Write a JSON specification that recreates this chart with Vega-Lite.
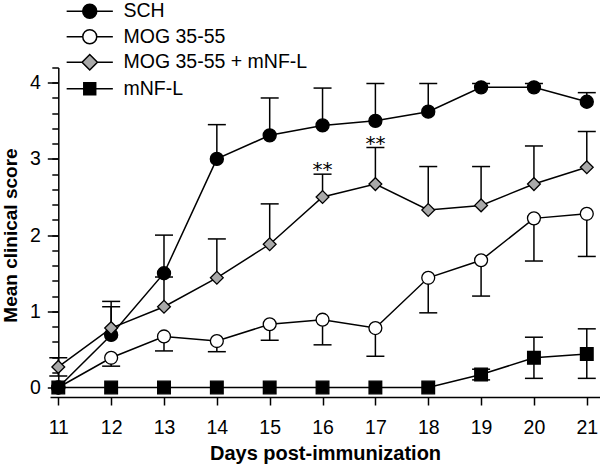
{
  "$schema": "https://vega.github.io/schema/vega-lite/v6.json",
  "width": 550,
  "height": 320,
  "autosize": {"type": "none"},
  "padding": {"left": 50, "top": 67.5, "right": 0, "bottom": 77.5},
  "background": "white",
  "config": {
    "view": {"stroke": null},
    "font": "Liberation Sans",
    "axis": {"grid": false, "domainColor": "black", "tickColor": "black", "labelColor": "black", "titleColor": "black", "domainWidth": 1.5, "tickWidth": 1.5, "labelFont": "Liberation Sans", "titleFont": "Liberation Sans"}
  },
  "datasets": {
    "series": [
      {"group": "SCH", "day": 11, "mean": 0, "lo": null, "hi": null},
      {"group": "SCH", "day": 12, "mean": 0.69, "lo": null, "hi": 1.13},
      {"group": "SCH", "day": 13, "mean": 1.5, "lo": null, "hi": 2.0},
      {"group": "SCH", "day": 14, "mean": 3.0, "lo": null, "hi": 3.45},
      {"group": "SCH", "day": 15, "mean": 3.31, "lo": null, "hi": 3.8},
      {"group": "SCH", "day": 16, "mean": 3.44, "lo": null, "hi": 3.93},
      {"group": "SCH", "day": 17, "mean": 3.5, "lo": null, "hi": 3.99},
      {"group": "SCH", "day": 18, "mean": 3.62, "lo": null, "hi": 3.99},
      {"group": "SCH", "day": 19, "mean": 3.94, "lo": null, "hi": 3.99},
      {"group": "SCH", "day": 20, "mean": 3.94, "lo": null, "hi": 3.99},
      {"group": "SCH", "day": 21, "mean": 3.75, "lo": null, "hi": 3.87},
      {"group": "MOG 35-55", "day": 11, "mean": 0, "lo": null, "hi": null},
      {"group": "MOG 35-55", "day": 12, "mean": 0.39, "lo": 0.28, "hi": null},
      {"group": "MOG 35-55", "day": 13, "mean": 0.67, "lo": 0.48, "hi": null},
      {"group": "MOG 35-55", "day": 14, "mean": 0.61, "lo": 0.47, "hi": null},
      {"group": "MOG 35-55", "day": 15, "mean": 0.83, "lo": 0.62, "hi": null},
      {"group": "MOG 35-55", "day": 16, "mean": 0.89, "lo": 0.56, "hi": null},
      {"group": "MOG 35-55", "day": 17, "mean": 0.78, "lo": 0.41, "hi": null},
      {"group": "MOG 35-55", "day": 18, "mean": 1.44, "lo": 0.98, "hi": null},
      {"group": "MOG 35-55", "day": 19, "mean": 1.67, "lo": 1.2, "hi": null},
      {"group": "MOG 35-55", "day": 20, "mean": 2.22, "lo": 1.66, "hi": null},
      {"group": "MOG 35-55", "day": 21, "mean": 2.28, "lo": 1.72, "hi": null},
      {"group": "MOG 35-55 + mNF-L", "day": 11, "mean": 0.27, "lo": 0.15, "hi": 0.39},
      {"group": "MOG 35-55 + mNF-L", "day": 12, "mean": 0.78, "lo": null, "hi": 1.06},
      {"group": "MOG 35-55 + mNF-L", "day": 13, "mean": 1.06, "lo": null, "hi": 1.45},
      {"group": "MOG 35-55 + mNF-L", "day": 14, "mean": 1.44, "lo": null, "hi": 1.95},
      {"group": "MOG 35-55 + mNF-L", "day": 15, "mean": 1.88, "lo": null, "hi": 2.41},
      {"group": "MOG 35-55 + mNF-L", "day": 16, "mean": 2.5, "lo": null, "hi": 2.8},
      {"group": "MOG 35-55 + mNF-L", "day": 17, "mean": 2.67, "lo": null, "hi": 3.15},
      {"group": "MOG 35-55 + mNF-L", "day": 18, "mean": 2.33, "lo": null, "hi": 2.9},
      {"group": "MOG 35-55 + mNF-L", "day": 19, "mean": 2.39, "lo": null, "hi": 2.9},
      {"group": "MOG 35-55 + mNF-L", "day": 20, "mean": 2.67, "lo": null, "hi": 3.17},
      {"group": "MOG 35-55 + mNF-L", "day": 21, "mean": 2.89, "lo": null, "hi": 3.36},
      {"group": "mNF-L", "day": 11, "mean": 0, "lo": null, "hi": null},
      {"group": "mNF-L", "day": 12, "mean": 0, "lo": null, "hi": null},
      {"group": "mNF-L", "day": 13, "mean": 0, "lo": null, "hi": null},
      {"group": "mNF-L", "day": 14, "mean": 0, "lo": null, "hi": null},
      {"group": "mNF-L", "day": 15, "mean": 0, "lo": null, "hi": null},
      {"group": "mNF-L", "day": 16, "mean": 0, "lo": null, "hi": null},
      {"group": "mNF-L", "day": 17, "mean": 0, "lo": null, "hi": null},
      {"group": "mNF-L", "day": 18, "mean": 0, "lo": null, "hi": null},
      {"group": "mNF-L", "day": 19, "mean": 0.17, "lo": 0.1, "hi": 0.24},
      {"group": "mNF-L", "day": 20, "mean": 0.39, "lo": 0.12, "hi": 0.66},
      {"group": "mNF-L", "day": 21, "mean": 0.44, "lo": 0.12, "hi": 0.77}
    ],
    "stars": [
      {"day": 16, "y": 2.8, "label": "**"},
      {"day": 17, "y": 3.15, "label": "**"}
    ]
  },
  "encoding": {
    "x": {
      "field": "day",
      "type": "quantitative",
      "scale": {"domain": [10.843, 21.25], "nice": false, "zero": false},
      "axis": {"title": "Days post-immunization", "values": [11, 12, 13, 14, 15, 16, 17, 18, 19, 20, 21], "format": "d", "offset": 9.5, "tickSize": 8, "labelFontSize": 19.5, "labelPadding": 13, "labelFlush": false, "titleFontSize": 20, "titleFontWeight": "bold", "titleBaseline": "alphabetic", "titleY": 62}
    }
  },
  "layer": [
    {
      "data": {"name": "series"},
      "transform": [{"filter": "isValid(datum.lo) || isValid(datum.hi)"}],
      "mark": {"type": "rule", "color": "black", "strokeWidth": 1.5, "opacity": 0},
      "encoding": {
        "y": {
          "field": "mean", "type": "quantitative",
          "scale": {"domain": [0, 4.2], "nice": false, "zero": false},
          "axis": {"orient": "left", "offset": -8.3, "values": [0, 0.2, 0.4, 0.6, 0.8, 1, 1.2, 1.4, 1.6, 1.8, 2, 2.2, 2.4, 2.6, 2.8, 3, 3.2, 3.4, 3.6, 3.8, 4, 4.2], "labels": false, "tickSize": 6.5, "title": null}
        }
      }
    },
    {
      "data": {"name": "series"},
      "transform": [{"filter": "isValid(datum.hi)"}],
      "mark": {"type": "rule", "color": "black", "strokeWidth": 1.5},
      "encoding": {
        "y": {"field": "mean", "type": "quantitative", "axis": null},
        "y2": {"field": "hi"}
      }
    },
    {
      "data": {"name": "series"},
      "transform": [{"filter": "isValid(datum.lo)"}],
      "mark": {"type": "rule", "color": "black", "strokeWidth": 1.5},
      "encoding": {
        "y": {"field": "lo", "type": "quantitative", "axis": null},
        "y2": {"field": "mean"}
      }
    },
    {
      "data": {"name": "series"},
      "transform": [{"filter": "isValid(datum.hi)"}],
      "mark": {"type": "tick", "orient": "horizontal", "color": "black", "size": 18, "thickness": 1.5, "opacity": 1},
      "encoding": {"y": {"field": "hi", "type": "quantitative", "axis": null}}
    },
    {
      "data": {"name": "series"},
      "transform": [{"filter": "isValid(datum.lo)"}],
      "mark": {"type": "tick", "orient": "horizontal", "color": "black", "size": 18, "thickness": 1.5, "opacity": 1},
      "encoding": {"y": {"field": "lo", "type": "quantitative", "axis": null}}
    },
    {
      "data": {"name": "series"},
      "mark": {"type": "line", "color": "black", "strokeWidth": 1.5},
      "encoding": {
        "y": {
          "field": "mean", "type": "quantitative",
          "axis": {"orient": "left", "offset": -8.3, "values": [0, 1, 2, 3, 4], "tickSize": 11, "domain": false, "labelFontSize": 19.5, "labelPadding": 7, "title": "Mean clinical score", "titleFontSize": 19, "titleFontWeight": "bold", "titleX": -42.3, "titleY": 167.5, "titleBaseline": "alphabetic", "titleAngle": 270, "titleAlign": "center"}
        },
        "detail": {"field": "group"}
      }
    },
    {
      "data": {"name": "series"},
      "mark": {"type": "point", "filled": true, "stroke": "black", "strokeWidth": 1.3, "opacity": 1},
      "encoding": {
        "y": {"field": "mean", "type": "quantitative", "axis": null},
        "shape": {"field": "group", "type": "nominal", "scale": {"domain": ["SCH", "MOG 35-55", "MOG 35-55 + mNF-L", "mNF-L"], "range": ["circle", "circle", "diamond", "square"]}, "legend": null},
        "fill": {"field": "group", "type": "nominal", "scale": {"domain": ["SCH", "MOG 35-55", "MOG 35-55 + mNF-L", "mNF-L"], "range": ["#000000", "#ffffff", "#a9a9a9", "#000000"]}, "legend": null},
        "size": {"field": "group", "type": "nominal", "scale": {"domain": ["SCH", "MOG 35-55", "MOG 35-55 + mNF-L", "mNF-L"], "range": [170, 160, 240, 150]}, "legend": null}
      }
    },
    {
      "data": {"name": "series"},
      "mark": {"type": "point", "filled": true, "stroke": "black", "strokeWidth": 1.3, "opacity": 0},
      "encoding": {
        "y": {"field": "mean", "type": "quantitative", "axis": null},
        "shape": {
          "field": "group", "type": "nominal",
          "scale": {"domain": ["SCH", "MOG 35-55", "MOG 35-55 + mNF-L", "mNF-L"], "range": [
            "M-3.3,0H-1M1,0H3.3M-1,0A1,1,0,1,0,1,0A1,1,0,1,0,-1,0Z",
            "M-3.3,0H-1M1,0H3.3M-1,0A1,1,0,1,0,1,0A1,1,0,1,0,-1,0Z",
            "M-3.3,0H-1.1M1.1,0H3.3M-1.1,0L0,-1.1L1.1,0L0,1.1Z",
            "M-3.3,0H-0.85M0.85,0H3.3M-0.85,-0.85H0.85V0.85H-0.85Z"
          ]},
          "legend": {"title": null, "orient": "none", "legendX": 30, "legendY": -66, "symbolSize": 196, "symbolStrokeWidth": 1.5, "symbolStrokeColor": "black", "symbolOpacity": 1, "labelFontSize": 19.5, "labelOffset": 24, "labelLimit": 0, "rowPadding": 4.5, "padding": 0, "labelColor": "black", "labelFont": "Liberation Sans", "encode": {"symbols": {"update": {"stroke": {"value": "black"}, "strokeWidth": {"value": 1.5}, "opacity": {"value": 1}}}}}
        },
        "fill": {
          "field": "group", "type": "nominal",
          "scale": {"domain": ["SCH", "MOG 35-55", "MOG 35-55 + mNF-L", "mNF-L"], "range": ["#000000", "#ffffff", "#a9a9a9", "#000000"]},
          "legend": {"title": null, "orient": "none", "legendX": 30, "legendY": -66, "symbolSize": 196, "symbolStrokeWidth": 1.5, "symbolStrokeColor": "black", "symbolOpacity": 1, "labelFontSize": 19.5, "labelOffset": 24, "labelLimit": 0, "rowPadding": 4.5, "padding": 0, "labelColor": "black", "labelFont": "Liberation Sans", "encode": {"symbols": {"update": {"stroke": {"value": "black"}, "strokeWidth": {"value": 1.5}, "opacity": {"value": 1}}}}}
        }
      }
    },
    {
      "data": {"name": "stars"},
      "mark": {"type": "text", "fontSize": 20, "baseline": "alphabetic", "dy": 2, "color": "black", "font": "DejaVu Sans"},
      "encoding": {
        "y": {"field": "y", "type": "quantitative", "axis": null},
        "text": {"field": "label"}
      }
    }
  ],
  "resolve": {"axis": {"y": "independent"}, "scale": {"shape": "independent", "fill": "independent"}}
}
